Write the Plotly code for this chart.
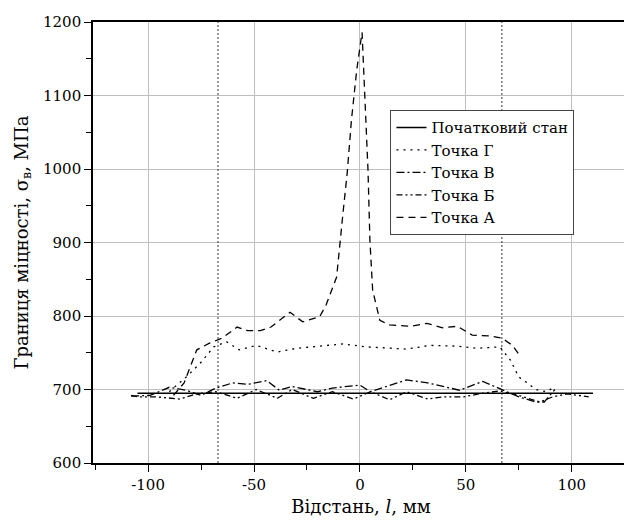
import plotly.graph_objects as go

# ---- data ----
x_init = [-105, 110]
y_init = [695, 695]

x_A = [-88, -83, -77, -71, -65, -58, -53, -47, -42, -33, -27, -19, -16, -11, -8, -6, -4, -1.5, 1, 2.4, 3.8, 4.7, 6, 9.4, 14, 24, 31.6, 39, 46, 53, 61, 67, 72, 76]
y_A = [692, 709, 754, 763, 770, 785, 780, 780, 785, 805, 792, 799, 815, 853, 940, 995, 1067, 1135, 1186, 1094, 999, 903, 835, 794, 788, 786, 790, 784, 786, 774, 773, 770, 760, 744]

x_G = [-90, -82, -75, -69, -63, -57, -49, -39, -30, -17, -8, 3, 14, 22, 33, 46, 55, 66, 71, 75, 79, 83, 88, 91]
y_G = [697, 717, 737, 758, 765, 754, 760, 751, 756, 760, 762, 758, 756, 755, 760, 759, 756, 758, 740, 717, 709, 700, 697, 702]

x_V = [-108, -99, -90, -82, -75, -68, -60, -53, -44, -38, -32, -20, -13, 0, 5, 14, 22, 32, 39, 47, 58, 66, 75, 83, 87, 92]
y_V = [691, 692, 703, 699, 692, 702, 709, 707, 712, 699, 704, 697, 702, 706, 697, 706, 713, 709, 704, 699, 711, 701, 690, 683, 683, 700]

x_B = [-108, -105, -96, -85, -77, -68, -58, -49, -39, -32, -22, -13, -3, 5, 14, 22, 32, 39, 49, 58, 66, 75, 85, 91, 98, 108]
y_B = [692, 690, 690, 687, 694, 697, 688, 700, 688, 700, 688, 697, 687, 697, 686, 697, 687, 690, 690, 695, 698, 692, 683, 690, 694, 690]

x_marks = [-67, 67]
y_span = [600, 1200]

x_ticks = [-100, -50, 0, 50, 100]
y_ticks = [600, 700, 800, 900, 1000, 1100, 1200]

FONT = "DejaVu Serif"

fig = go.Figure()

for xv in x_marks:
    fig.add_trace(go.Scatter(x=[xv, xv], y=y_span, mode="lines", showlegend=False,
                             line=dict(color="#333333", width=1, dash="2px,2px"), hoverinfo="skip"))

fig.add_trace(go.Scatter(x=x_init, y=y_init, mode="lines", name="Початковий стан",
                         line=dict(color="black", width=1.6)))
fig.add_trace(go.Scatter(x=x_G, y=y_G, mode="lines", name="Точка Г",
                         line=dict(color="black", width=1.3, dash="2px,5px")))
fig.add_trace(go.Scatter(x=x_V, y=y_V, mode="lines", name="Точка В",
                         line=dict(color="black", width=1.3, dash="8px,3px,2px,3px")))
fig.add_trace(go.Scatter(x=x_B, y=y_B, mode="lines", name="Точка Б",
                         line=dict(color="black", width=1.3, dash="6px,3px,2px,3px,2px,3px")))
fig.add_trace(go.Scatter(x=x_A, y=y_A, mode="lines", name="Точка А",
                         line=dict(color="black", width=1.3, dash="7px,5px")))

fig.update_layout(
    width=624, height=523,
    margin=dict(l=85, r=1, t=14, b=68),
    paper_bgcolor="white", plot_bgcolor="white",
    font=dict(family=FONT, size=15, color="black"),
    showlegend=True,
    legend=dict(x=0.555, y=0.80, xanchor="left", yanchor="top",
                bgcolor="white", bordercolor="#444444", borderwidth=1,
                font=dict(family=FONT, size=15), tracegroupgap=0),
)
fig.update_xaxes(
    range=[-126, 127], tickvals=x_ticks, ticktext=[str(v) for v in x_ticks],
    showgrid=True, gridcolor="#bfbfbf", gridwidth=1, zeroline=False,
    showline=True, linecolor="black", linewidth=1.6, mirror=True,
    ticks="outside", ticklen=7, tickwidth=1.3, tickcolor="black",
    minor=dict(tickvals=[-125, -75, -25, 25, 75, 125], ticks="outside", ticklen=5, tickwidth=1.2, tickcolor="black", showgrid=False),
    tickfont=dict(family=FONT, size=15),
    title=dict(text="Відстань, <i>l</i>, мм", font=dict(family=FONT, size=18), standoff=8),
)
fig.update_yaxes(
    range=[600, 1200], tickvals=y_ticks, ticktext=[str(v) for v in y_ticks],
    showgrid=True, gridcolor="#bfbfbf", gridwidth=1, zeroline=False,
    showline=True, linecolor="black", linewidth=1.6, mirror=True,
    ticks="outside", ticklen=7, tickwidth=1.3, tickcolor="black",
    minor=dict(tickvals=[650, 750, 850, 950, 1050, 1150], ticks="outside", ticklen=5, tickwidth=1.2, tickcolor="black", showgrid=False),
    tickfont=dict(family=FONT, size=15),
    title=dict(text="Границя міцності, σ<sub>в</sub>, МПа", font=dict(family=FONT, size=18), standoff=10),
)

fig.write_html("out.html")
